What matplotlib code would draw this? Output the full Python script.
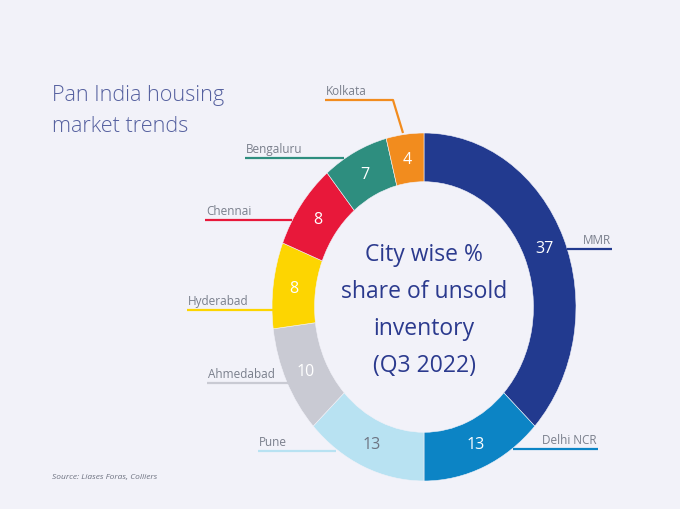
import matplotlib
matplotlib.use('Agg')
import numpy as np
import matplotlib.pyplot as plt

plt.rcParams['font.family'] = ['Open Sans', 'DejaVu Sans']

# data
cities = ['MMR', 'Delhi NCR', 'Pune', 'Ahmedabad', 'Hyderabad', 'Chennai', 'Bengaluru', 'Kolkata']
shares = [37, 13, 13, 10, 8, 8, 7, 4]
colors = ['#223a8f', '#0c84c5', '#b8e2f2', '#c9cad3', '#fdd501', '#e8183a', '#2e8e7f', '#f28c1e']
value_colors = ['white', 'white', '#6d7482', 'white', 'white', 'white', 'white', 'white']

# leader layout in pixels (x from left, y from top): line start, line end, optional elbow, text side
leaders = {
    'MMR':       ((567, 250), (612, 250), None, 'right'),
    'Delhi NCR': ((513, 450), (598, 450), None, 'right'),
    'Pune':      ((258, 452), (336, 452), None, 'left'),
    'Ahmedabad': ((207, 384), (290, 384), None, 'left'),
    'Hyderabad': ((187, 311), (273, 311), None, 'left'),
    'Chennai':   ((205, 221), (292, 221), None, 'left'),
    'Bengaluru': ((245, 159), (344, 159), None, 'left'),
    'Kolkata':   ((325, 101), (393, 101), (403, 134), 'left'),
}

bg = '#f2f2f9'
fig = plt.figure(figsize=(6.8, 5.1), dpi=100, facecolor=bg)

# donut axes (stretched a bit vertically like the original)
ax = fig.add_axes([272/680, 28/510, 304/680, 348/510])
wedges, _ = ax.pie(shares, colors=colors, startangle=90, counterclock=False,
                   radius=1.0, wedgeprops=dict(width=0.28, edgecolor=bg, linewidth=0.4))
ax.set_aspect('auto')
ax.set_xlim(-1, 1)
ax.set_ylim(-1, 1)
ax.axis('off')

for w, val, vc in zip(wedges, shares, value_colors):
    mid = np.deg2rad((w.theta1 + w.theta2) / 2)
    r = 0.86
    ax.text(r*np.cos(mid), r*np.sin(mid), str(val), ha='center', va='center',
            fontsize=11.5, color=vc)

ax.text(0, -0.015, 'City wise %\nshare of unsold\ninventory\n(Q3 2022)', ha='center', va='center',
        fontsize=16.5, color='#2b3a8e', linespacing=1.71)

# overlay in pixel coordinates
ov = fig.add_axes([0, 0, 1, 1])
ov.set_xlim(0, 680)
ov.set_ylim(510, 0)
ov.axis('off')

for city, col in zip(cities, colors):
    (x0, y0), (x1, y1), elbow, side = leaders[city]
    xs, ys = [x0, x1], [y0, y1]
    if elbow:
        xs.append(elbow[0]); ys.append(elbow[1])
    ov.plot(xs, ys, color=col, lw=1.6, solid_capstyle='butt')
    if side == 'left':
        ov.text(x0 + 1, y0 - 3, city, ha='left', va='bottom', fontsize=8.5, color='#7a7f8c')
    else:
        ov.text(x1 - 1, y0 - 3, city, ha='right', va='bottom', fontsize=8.5, color='#7a7f8c')

ov.text(52, 96, 'Pan India housing', ha='left', va='center', fontsize=15.6, color='#55609f',
        fontweight='light')
ov.text(52, 127, 'market trends', ha='left', va='center', fontsize=15.6, color='#55609f',
        fontweight='light')
ov.text(52, 478, 'Source: Liases Foras, Colliers', ha='left', va='center', fontsize=6,
        color='#6d7280', style='italic')

fig.savefig('out.png', dpi=100, facecolor=bg)
